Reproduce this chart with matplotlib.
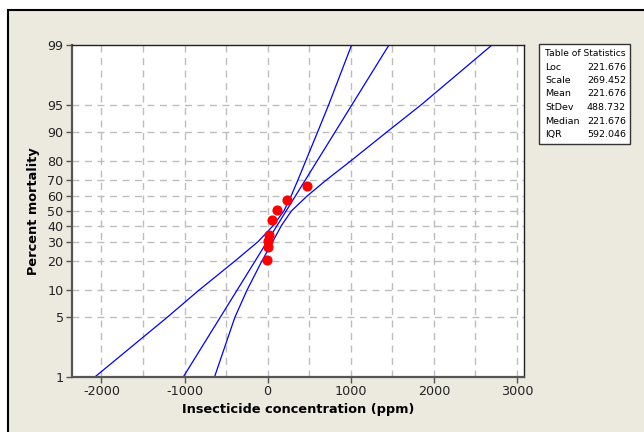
import matplotlib
matplotlib.use("Agg")
import matplotlib.pyplot as plt
from matplotlib.patches import Rectangle
from matplotlib.ticker import FixedLocator, FixedFormatter, NullLocator

plt.rcParams['axes.unicode_minus'] = False

# observed points (concentration, percent)
conc = [-12, 0, 7, 16, 56, 108, 229, 473]
pct = [20.3, 26.7, 30.1, 33.7, 43.5, 50.4, 57.5, 66.8]

# fitted line, read at the 1% and 99% edges
fit_x = [-1016, 1460]
fit_pct = [1, 99]

# confidence band curves
band_pct = [1, 5, 10, 20, 30, 40, 50, 60, 70, 80, 90, 95, 99]
band_lo = [-2080, -1210, -830, -395, -115, 65, 195, 280, 362, 458, 603, 735, 1010]
band_hi = [-640, -395, -250, -70, 60, 165, 285, 470, 700, 1000, 1440, 1850, 2700]

yticks = [1, 5, 10, 20, 30, 40, 50, 60, 70, 80, 90, 95, 99]
xticks = [-2000, -1000, 0, 1000, 2000, 3000]

stats_names = ["Loc", "Scale", "Mean", "StDev", "Median", "IQR"]
stats_vals = ["221.676", "269.452", "221.676", "488.732", "221.676", "592.046"]

W, H = 644, 432
fig = plt.figure(figsize=(W / 100, H / 100), dpi=100, facecolor="white")
fig.patches.append(Rectangle((8 / W, -0.1), 2, 1 - 10 / H + 0.1, transform=fig.transFigure,
                             facecolor="#ECE9DF", edgecolor="black", lw=1.5, zorder=-10))

ax = fig.add_axes([72 / W, 1 - 377 / H, (524 - 72) / W, (377 - 45) / H])
ax.set_facecolor("white")

to_frac = lambda v: [p / 100 for p in v]

ax.set_yscale("logit")
ax.set_xlim(-2355, 3085)
ax.set_ylim(0.01, 0.99)

# grid
for gx in range(-2000, 3001, 500):
    ax.axvline(gx, color="#BDBDBD", lw=1, ls=(0, (5, 4)), zorder=0)
for gy in yticks[1:-1]:
    ax.axhline(gy / 100, color="#BDBDBD", lw=1, ls=(0, (5, 4)), zorder=0)

ax.plot(fit_x, to_frac(fit_pct), color="#0000FF", lw=0.9, zorder=2)
ax.plot(band_lo, to_frac(band_pct), color="#0000FF", lw=0.9, zorder=2)
ax.plot(band_hi, to_frac(band_pct), color="#0000FF", lw=0.9, zorder=2)
ax.plot(conc, to_frac(pct), "o", color="#FF0000", ms=6.3, mec="#FF0000", zorder=3, clip_on=False)

ax.yaxis.set_major_locator(FixedLocator(to_frac(yticks)))
ax.yaxis.set_major_formatter(FixedFormatter([str(t) for t in yticks]))
ax.yaxis.set_minor_locator(NullLocator())
ax.set_xticks(xticks)
ax.set_xticklabels([str(t) for t in xticks])
ax.tick_params(axis="both", direction="out", length=4, width=1, color="#555555",
               labelsize=9.2, labelcolor="#222222", pad=2)

for s in ["left", "bottom"]:
    ax.spines[s].set_color("#555555")
    ax.spines[s].set_linewidth(1.6)
for s in ["top", "right"]:
    ax.spines[s].set_color("#222222")
    ax.spines[s].set_linewidth(1.0)

ax.set_xlabel("Insecticide concentration (ppm)", fontsize=9.3, fontweight="bold", labelpad=3)
ax.set_ylabel("Percent mortality", fontsize=9.3, fontweight="bold", labelpad=5)

# statistics table
fig.patches.append(Rectangle((539 / W, 1 - 144 / H), 91 / W, 100 / H, transform=fig.transFigure,
                             facecolor="white", edgecolor="#333333", lw=1, zorder=5))
fig.text(545 / W, 1 - 54 / H, "Table of Statistics", fontsize=6.6, va="center", ha="left", zorder=6)
for i, (n, v) in enumerate(zip(stats_names, stats_vals)):
    yy = 1 - (67 + i * 13.5) / H
    fig.text(545 / W, yy, n, fontsize=6.8, va="center", ha="left", zorder=6)
    fig.text(626 / W, yy, v, fontsize=6.8, va="center", ha="right", zorder=6)

fig.savefig("out.png", dpi=100, facecolor=fig.get_facecolor())
